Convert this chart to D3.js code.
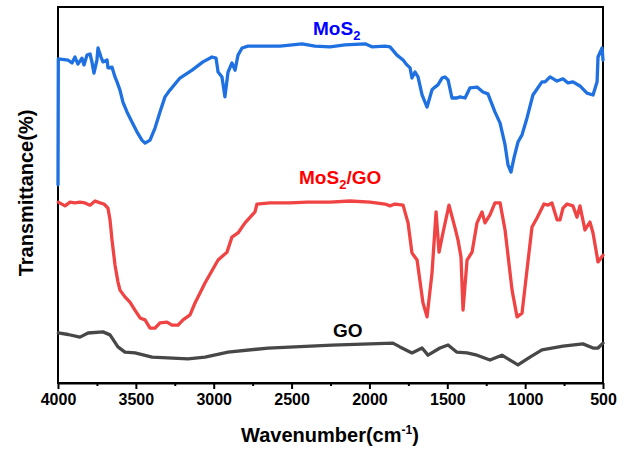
<!DOCTYPE html>
<html>
<head>
<meta charset="utf-8">
<script src="https://cdn.jsdelivr.net/npm/d3@7"></script>
<style>
  body { margin: 0; background: #fff; }
  text { font-family: Arial, "Liberation Sans", sans-serif; font-weight: bold; }
</style>
</head>
<body>
<svg id="ftir-chart" width="629" height="451"></svg>
<script>
// wavenumber (cm-1), transmittance (a.u., 0-100 of plot height)
let mos2 = [
  [4000, 52.7], [3998, 86.2], [3936, 85.9], [3910, 85.1], [3891, 86.7], [3872, 84.8],
  [3846, 86.4], [3833, 84.6], [3814, 87.2], [3794, 87.5], [3782, 85.4], [3769, 82.4],
  [3750, 85.9], [3743, 89.1], [3724, 86.7], [3711, 85.4], [3685, 85.9], [3679, 83.8],
  [3653, 84.0], [3634, 81.4], [3621, 80.1], [3602, 77.9], [3583, 74.7], [3557, 72.1],
  [3525, 69.4], [3493, 66.8], [3461, 64.6], [3441, 63.8], [3409, 64.6], [3377, 67.8],
  [3345, 72.1], [3313, 76.1], [3281, 77.9], [3217, 81.1], [3139, 83.2], [3069, 85.4],
  [3011, 86.7], [2985, 86.4], [2972, 82.7], [2947, 81.4], [2928, 76.1], [2908, 82.7],
  [2883, 85.1], [2863, 83.2], [2844, 87.2], [2818, 89.1], [2780, 89.6], [2735, 89.6],
  [2574, 89.6], [2433, 90.2], [2350, 89.6], [2253, 89.4], [2157, 89.9], [2028, 90.2],
  [1984, 89.4], [1900, 89.6], [1868, 89.4], [1823, 87.2], [1784, 85.9], [1759, 84.6],
  [1739, 83.8], [1727, 81.1], [1707, 82.7], [1688, 81.4], [1662, 76.6], [1630, 73.4],
  [1598, 78.0], [1579, 78.7], [1560, 79.3], [1534, 81.1], [1515, 81.4], [1495, 80.6],
  [1470, 75.8], [1438, 75.8], [1418, 76.1], [1386, 75.8], [1354, 78.5], [1309, 78.7],
  [1271, 77.4], [1239, 76.9], [1194, 72.1], [1161, 69.1], [1129, 63.3], [1110, 58.0],
  [1091, 56.1], [1072, 59.8], [1046, 64.1], [1020, 66.0], [988, 70.5], [950, 76.6],
  [892, 80.1], [872, 80.1], [840, 81.4], [795, 80.3], [757, 80.9], [725, 79.8],
  [693, 80.1], [648, 79.0], [603, 77.1], [564, 76.6], [538, 80.1], [532, 86.7],
  [506, 89.1], [500, 85.9]
];

let mos2go = [
  [3998, 48.1], [3955, 47.1], [3923, 48.1], [3891, 47.9], [3859, 48.1], [3827, 47.9],
  [3794, 47.3], [3762, 48.4], [3730, 47.9], [3705, 47.6], [3679, 46.5], [3666, 43.4],
  [3653, 38.0], [3634, 31.4], [3615, 26.9], [3602, 24.7], [3570, 22.9], [3538, 21.5],
  [3506, 19.4], [3473, 17.3], [3441, 16.8], [3409, 14.6], [3377, 14.6], [3345, 16.0],
  [3300, 16.2], [3268, 15.4], [3229, 15.4], [3197, 16.8], [3152, 18.1], [3120, 21.3],
  [3056, 26.6], [2972, 32.7], [2915, 34.8], [2883, 38.8], [2844, 39.9], [2799, 42.6],
  [2735, 45.5], [2722, 47.6], [2639, 47.9], [2510, 47.9], [2401, 48.1], [2253, 48.1],
  [2125, 48.4], [1996, 48.1], [1900, 47.6], [1868, 47.1], [1836, 47.6], [1784, 47.3],
  [1752, 42.6], [1727, 34.6], [1694, 32.7], [1656, 21.3], [1630, 17.6], [1598, 29.3],
  [1572, 45.5], [1553, 34.8], [1528, 39.9], [1489, 47.3], [1450, 41.2], [1431, 38.0],
  [1412, 33.5], [1399, 19.4], [1373, 32.7], [1341, 34.8], [1309, 42.6], [1277, 45.5],
  [1258, 42.6], [1226, 44.7], [1194, 47.9], [1161, 47.9], [1129, 40.7], [1084, 24.7],
  [1052, 17.6], [1020, 18.6], [988, 30.1], [956, 41.5], [924, 43.9], [879, 47.6],
  [853, 47.3], [828, 47.9], [795, 43.4], [776, 43.4], [757, 46.5], [731, 47.6],
  [693, 47.1], [667, 44.1], [648, 47.1], [616, 40.7], [584, 42.8], [564, 39.9],
  [532, 32.2], [500, 34.0]
];

let go = [
  [3998, 13.3], [3935, 12.9], [3859, 12.2], [3807, 13.3], [3711, 13.6], [3666, 12.8],
  [3615, 9.6], [3570, 8.2], [3505, 8.0], [3396, 6.9], [3165, 6.4], [3056, 6.9],
  [2908, 8.2], [2651, 9.3], [2240, 10.1], [1849, 10.6], [1804, 9.6], [1727, 8.0],
  [1662, 9.3], [1624, 7.4], [1547, 9.3], [1495, 10.1], [1438, 8.2], [1373, 8.0],
  [1309, 7.4], [1226, 6.1], [1149, 7.4], [1046, 4.8], [969, 6.9], [892, 8.8],
  [757, 9.8], [629, 10.4], [564, 9.3], [532, 9.3], [500, 10.6]
];

let majorTicks = [4000, 3500, 3000, 2500, 2000, 1500, 1000, 500];
let minorTicks = [3750, 3250, 2750, 2250, 1750, 1250, 750];

let svg = d3.select("#ftir-chart");
let margin = { top: 7, right: 26, bottom: 68, left: 58 };
let width = 629, height = 451;

let x = d3.scaleLinear()
  .domain([4000, 500])
  .range([margin.left, width - margin.right]);

let y = d3.scaleLinear()
  .domain([0, 100])
  .range([height - margin.bottom, margin.top]);

// frame
svg.append("rect")
  .attr("x", margin.left)
  .attr("y", margin.top)
  .attr("width", width - margin.left - margin.right)
  .attr("height", height - margin.top - margin.bottom)
  .style("fill", "none")
  .style("stroke", "#000")
  .style("stroke-width", "2px");

let xAxis = svg.append("g")
  .attr("transform", `translate(0,${height - margin.bottom})`)
  .call(d3.axisBottom(x).tickValues(majorTicks).tickSize(6).tickSizeOuter(0).tickPadding(5).tickFormat(d3.format("d")));
xAxis.select(".domain").style("stroke-width", "2px");
xAxis.selectAll(".tick line").style("stroke-width", "2px");
xAxis.selectAll(".tick text").style("font-size", "16px").style("fill", "#000");

let xMinor = svg.append("g")
  .attr("transform", `translate(0,${height - margin.bottom})`)
  .call(d3.axisBottom(x).tickValues(minorTicks).tickSize(3).tickSizeOuter(0).tickFormat(""));
xMinor.select(".domain").remove();
xMinor.selectAll(".tick line").style("stroke-width", "2px");

let line = d3.line()
  .x(d => x(d[0]))
  .y(d => y(d[1]));

let series = [
  { name: "GO", data: go, color: "#474747" },
  { name: "MoS2/GO", data: mos2go, color: "#f04343" },
  { name: "MoS2", data: mos2, color: "#1f70e0" }
];

svg.append("g")
  .selectAll("path")
  .data(series)
  .join("path")
  .attr("d", d => line(d.data))
  .style("fill", "none")
  .style("stroke", d => d.color)
  .style("stroke-width", "3.3px")
  .style("stroke-linejoin", "round")
  .style("stroke-linecap", "round");

// curve labels
let lblMos2 = svg.append("text")
  .attr("x", x(2362))
  .attr("y", y(92.6))
  .style("font-size", "19px")
  .style("fill", "#0000ff");
lblMos2.append("tspan").text("MoS");
lblMos2.append("tspan").attr("dy", 5).style("font-size", "13px").text("2");

let lblMix = svg.append("text")
  .attr("x", x(2452))
  .attr("y", y(52.9))
  .style("font-size", "19px")
  .style("fill", "#ff0000");
lblMix.append("tspan").text("MoS");
lblMix.append("tspan").attr("dy", 5).style("font-size", "13px").text("2");
lblMix.append("tspan").attr("dy", -5).text("/GO");

svg.append("text")
  .attr("x", x(2234))
  .attr("y", y(12.2))
  .style("font-size", "19px")
  .style("fill", "#000")
  .text("GO");

// axis titles
let xTitle = svg.append("text")
  .attr("text-anchor", "middle")
  .attr("x", 330)
  .attr("y", 442)
  .style("font-size", "20px")
  .style("fill", "#000");
xTitle.append("tspan").text("Wavenumber(cm");
xTitle.append("tspan").attr("dy", -8).style("font-size", "12px").text("-1");
xTitle.append("tspan").attr("dy", 8).text(")");

svg.append("text")
  .attr("text-anchor", "middle")
  .attr("transform", "translate(33,193) rotate(-90)")
  .style("font-size", "20px")
  .style("fill", "#000")
  .text("Transmittance(%)");
</script>
</body>
</html>
